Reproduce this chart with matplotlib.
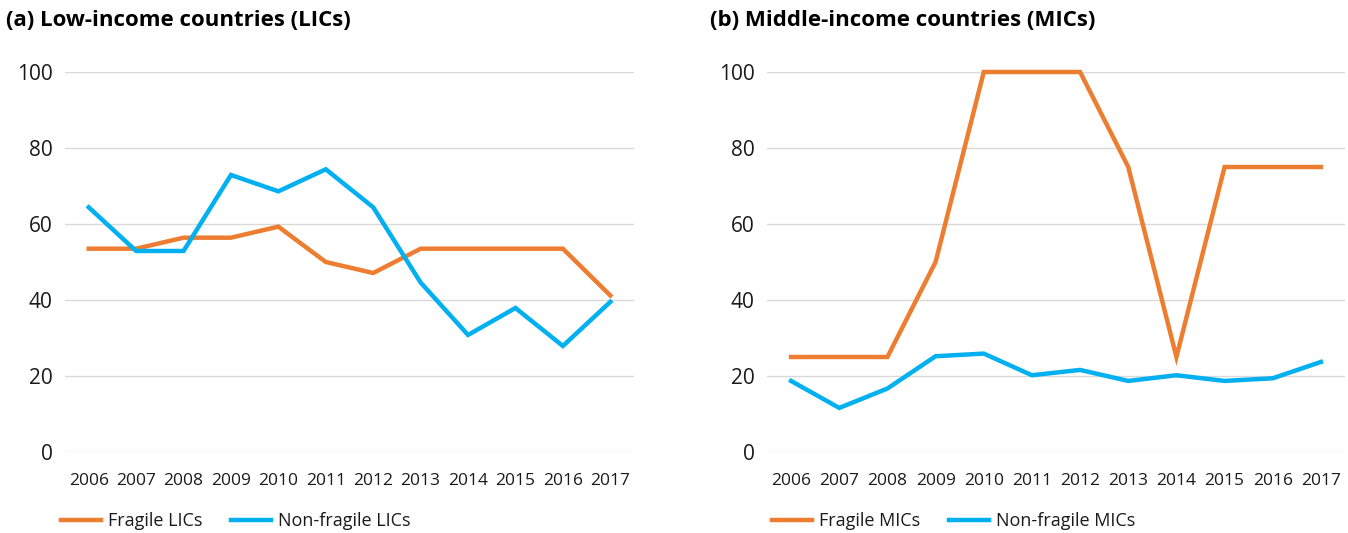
import matplotlib
matplotlib.use("Agg")
import matplotlib.pyplot as plt

years = ["2006", "2007", "2008", "2009", "2010", "2011",
         "2012", "2013", "2014", "2015", "2016", "2017"]

fragile_lics = [53.5, 53.5, 56.4, 56.4, 59.3, 50.0, 47.1, 53.5, 53.5, 53.5, 53.5, 41.2]
nonfragile_lics = [64.4, 52.9, 52.9, 72.9, 68.6, 74.4, 64.4, 44.6, 30.8, 37.9, 27.9, 39.5]

fragile_mics = [25, 25, 25, 50, 100, 100, 100, 75, 25, 75, 75, 75]
nonfragile_mics = [18.7, 11.6, 16.7, 25.2, 25.9, 20.2, 21.6, 18.7, 20.2, 18.7, 19.4, 23.7]

yticks = [0, 20, 40, 60, 80, 100]

ORANGE = "#ED7D31"
BLUE = "#00B0F0"
GRID = "#D9D9D9"
TXT = "#1a1a1a"

plt.rcParams['font.family'] = ['Open Sans', 'DejaVu Sans']

W, H = 1348, 533
fig = plt.figure(figsize=(W / 100, H / 100), dpi=100)

panels = [
    dict(rect=[65 / W, 1 - 452 / H, 569 / W, 380 / H],
         title="(a) Low-income countries (LICs)", tx=6 / W,
         series=[(fragile_lics, ORANGE, "Fragile LICs"),
                 (nonfragile_lics, BLUE, "Non-fragile LICs")],
         legx=61 / W),
    dict(rect=[767 / W, 1 - 452 / H, 578 / W, 380 / H],
         title="(b) Middle-income countries (MICs)", tx=710 / W,
         series=[(fragile_mics, ORANGE, "Fragile MICs"),
                 (nonfragile_mics, BLUE, "Non-fragile MICs")],
         legx=772 / W),
]

for p in panels:
    ax = fig.add_axes(p["rect"])
    x = list(range(len(years)))
    for vals, col, lab in p["series"]:
        ax.plot(x, vals, color=col, lw=3.2, label=lab, clip_on=False,
                solid_joinstyle="miter", zorder=3)
    ax.set_ylim(0, 100)
    ax.set_xlim(-0.5, len(years) - 0.5)
    ax.set_yticks(yticks)
    ax.set_xticks(x)
    ax.set_xticklabels(years)
    ax.grid(axis="y", color=GRID, lw=1.0, zorder=0)
    ax.set_axisbelow(True)
    for s in ax.spines.values():
        s.set_visible(False)
    ax.tick_params(axis="y", length=0, pad=9, labelsize=15, labelcolor=TXT)
    ax.tick_params(axis="x", length=0, pad=15, labelsize=12.5, labelcolor=TXT)
    fig.text(p["tx"], 1 - 21 / H, p["title"], fontsize=16, fontweight="bold",
             color="black", ha="left", va="center")
    ax.legend(loc="center left", bbox_to_anchor=(p["legx"], 1 - 521 / H),
              bbox_transform=fig.transFigure, ncol=2, frameon=False,
              fontsize=13, handlelength=2.2, handletextpad=0.4,
              columnspacing=1.6, borderaxespad=0, borderpad=0,
              labelcolor=TXT)

fig.savefig("out.png", dpi=100)
